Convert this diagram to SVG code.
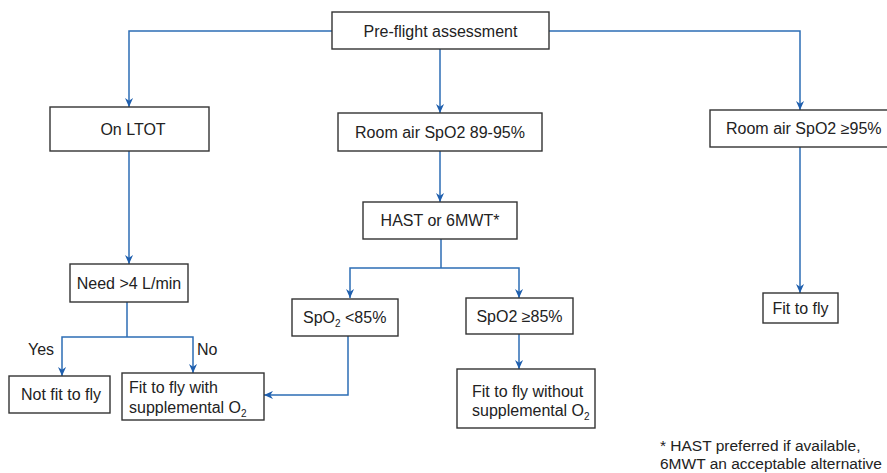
<svg xmlns="http://www.w3.org/2000/svg" width="887" height="473" viewBox="0 0 887 473">
<style>
.box{fill:#fff;stroke:#333;stroke-width:1.4}
.t{font-family:"Liberation Sans",Arial,sans-serif;font-size:16px;fill:#222}
.c{text-anchor:middle}
.sub{font-size:10px}
.fn{font-size:15.5px}
.ln{fill:none;stroke:#2d6db5;stroke-width:1.5}
</style>
<defs>
<marker id="ah" viewBox="0 0 10 10" refX="10" refY="5" markerWidth="9" markerHeight="9" markerUnits="userSpaceOnUse" orient="auto">
<path d="M0,0.5 L10,5 L0,9.5 L3,5 z" fill="#1f5fae"/>
</marker>
</defs>
<rect width="887" height="473" fill="#fff"/>
<g id="connectors">
<path class="ln" d="M332,31 H129 V107" marker-end="url(#ah)"/>
<path class="ln" d="M549,31 H800 V110" marker-end="url(#ah)"/>
<path class="ln" d="M440,49 V113" marker-end="url(#ah)"/>
<path class="ln" d="M129,151 V264" marker-end="url(#ah)"/>
<path class="ln" d="M440,151 V202" marker-end="url(#ah)"/>
<path class="ln" d="M800,147 V293" marker-end="url(#ah)"/>
<path class="ln" d="M441,239 V268"/>
<path class="ln" d="M441,268 H350 V298" marker-end="url(#ah)"/>
<path class="ln" d="M441,268 H519 V298" marker-end="url(#ah)"/>
<path class="ln" d="M519,334 V369" marker-end="url(#ah)"/>
<path class="ln" d="M348,336 V395 H264" marker-end="url(#ah)"/>
<path class="ln" d="M127,302 V337"/>
<path class="ln" d="M127,337 H62 V376" marker-end="url(#ah)"/>
<path class="ln" d="M127,337 H193 V373" marker-end="url(#ah)"/>
</g>
<g id="label-yes"><text class="t" x="28" y="355">Yes</text></g>
<g id="label-no"><text class="t" x="197" y="355">No</text></g>
<g id="preflight">
<rect class="box" x="332" y="12" width="217" height="37"/>
<text class="t c" x="440.5" y="36.5">Pre-flight assessment</text>
</g>
<g id="ltot">
<rect class="box" x="50" y="107" width="159" height="44"/>
<text class="t c" x="133" y="134.5">On LTOT</text>
</g>
<g id="roomair8995">
<rect class="box" x="338" y="113" width="204" height="38"/>
<text class="t c" x="440" y="137.5">Room air SpO2 89-95%</text>
</g>
<g id="roomair95">
<rect class="box" x="710" y="110" width="190" height="37"/>
<text class="t" x="726" y="134">Room air SpO2 ≥95%</text>
</g>
<g id="hast">
<rect class="box" x="363" y="202" width="154" height="37"/>
<text class="t c" x="440" y="226">HAST or 6MWT*</text>
</g>
<g id="need4">
<rect class="box" x="70" y="264" width="118" height="38"/>
<text class="t c" x="129" y="289">Need &gt;4 L/min</text>
</g>
<g id="spo2lt85">
<rect class="box" x="292" y="299" width="106" height="37"/>
<text class="t" x="303" y="322.5">SpO<tspan class="sub" dy="4">2</tspan><tspan dy="-4"> &lt;85%</tspan></text>
</g>
<g id="spo2ge85">
<rect class="box" x="466" y="298" width="107" height="36"/>
<text class="t c" x="519.5" y="321.5">SpO2 ≥85%</text>
</g>
<g id="notfit">
<rect class="box" x="9" y="376" width="101" height="37"/>
<text class="t c" x="61" y="400">Not fit to fly</text>
</g>
<g id="fitwith">
<rect class="box" x="122" y="373" width="142" height="47"/>
<text class="t" x="129" y="392.5">Fit to fly with</text>
<text class="t" x="129" y="412.5">supplemental O<tspan class="sub" dy="4">2</tspan></text>
</g>
<g id="fitwithout">
<rect class="box" x="457" y="369" width="138" height="59"/>
<text class="t" x="472" y="396.5">Fit to fly without</text>
<text class="t" x="472" y="415.5">supplemental O<tspan class="sub" dy="4">2</tspan></text>
</g>
<g id="fit">
<rect class="box" x="763" y="293" width="75" height="30"/>
<text class="t c" x="800.5" y="313.5">Fit to fly</text>
</g>
<g id="footnote">
<text class="t fn" x="660" y="450.5">* HAST preferred if available,</text>
<text class="t fn" x="660" y="469">6MWT an acceptable alternative</text>
</g>
</svg>
